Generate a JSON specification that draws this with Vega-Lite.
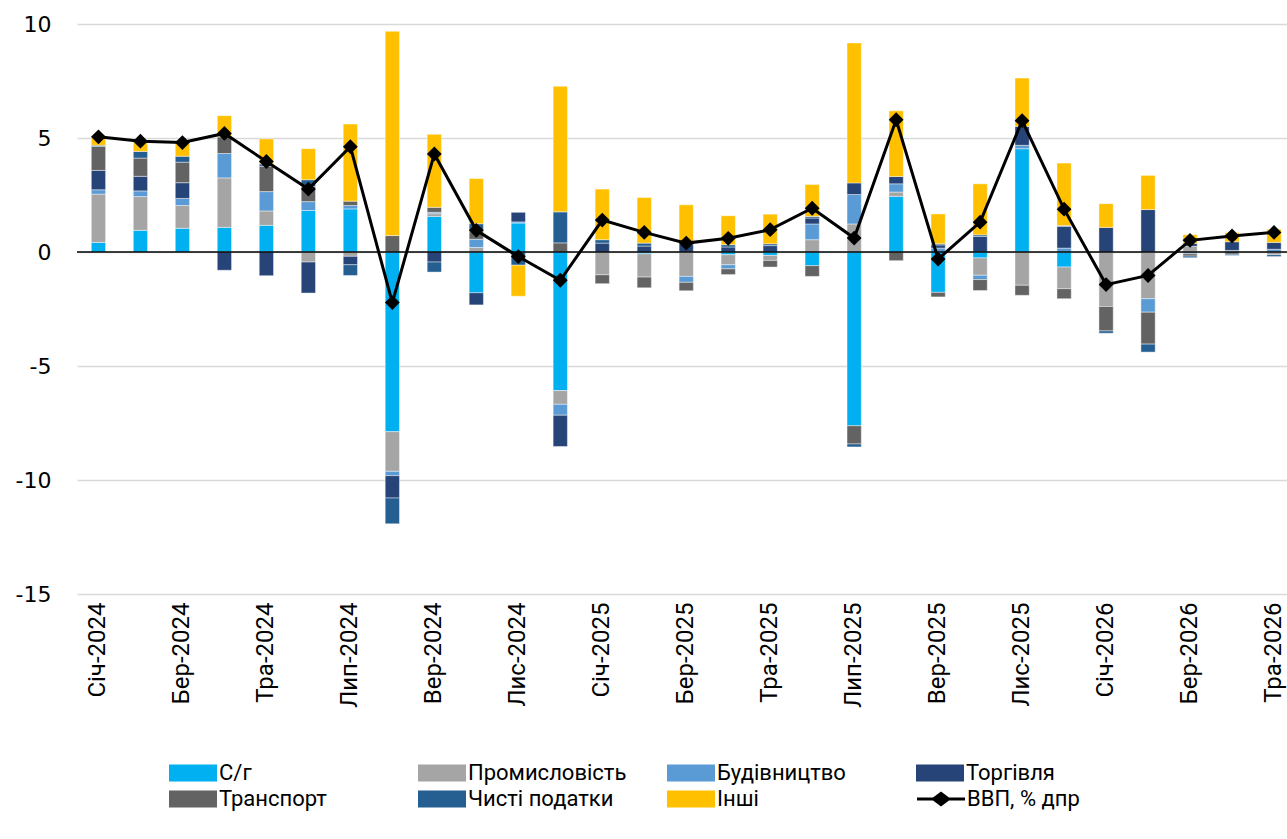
{
  "$schema": "https://vega.github.io/schema/vega-lite/v6.json",
  "width": 1210,
  "height": 570,
  "autosize": {"type": "none"},
  "padding": {"left": 77, "top": 24, "right": 0, "bottom": 245},
  "background": "white",
  "config": {
    "view": {"stroke": null},
    "axisX": {"labelAngle": -90, "labelAlign": "right", "labelBaseline": "middle", "labelFont": "Roboto", "labelFontSize": 24, "labelColor": "black", "labelPadding": 8, "domain": false, "ticks": false, "grid": false, "title": null},
    "axisY": {"labelFont": "DejaVu Sans", "labelFontSize": 22, "labelColor": "black", "labelPadding": 26, "domain": false, "ticks": false, "grid": true, "gridColor": "#D9D9D9", "gridWidth": 1.5, "title": null, "labelExpr": "'' + datum.value"}
  },
  "data": {"values": [
    {"month": "Січ-2024", "series": "С/г", "value": 0.42},
    {"month": "Січ-2024", "series": "Промисловість", "value": 2.12},
    {"month": "Січ-2024", "series": "Будівництво", "value": 0.19},
    {"month": "Січ-2024", "series": "Торгівля", "value": 0.85},
    {"month": "Січ-2024", "series": "Транспорт", "value": 1.05},
    {"month": "Січ-2024", "series": "Чисті податки", "value": 0.05},
    {"month": "Січ-2024", "series": "Інші", "value": 0.39},
    {"month": "Січ-2024", "series": "ВВП, % дпр", "value": 5.05},
    {"month": "Лют-2024", "series": "С/г", "value": 0.95},
    {"month": "Лют-2024", "series": "Промисловість", "value": 1.48},
    {"month": "Лют-2024", "series": "Будівництво", "value": 0.25},
    {"month": "Лют-2024", "series": "Торгівля", "value": 0.64},
    {"month": "Лют-2024", "series": "Транспорт", "value": 0.8},
    {"month": "Лют-2024", "series": "Чисті податки", "value": 0.29},
    {"month": "Лют-2024", "series": "Інші", "value": 0.44},
    {"month": "Лют-2024", "series": "ВВП, % дпр", "value": 4.86},
    {"month": "Бер-2024", "series": "С/г", "value": 1.04},
    {"month": "Бер-2024", "series": "Промисловість", "value": 1.0},
    {"month": "Бер-2024", "series": "Будівництво", "value": 0.31},
    {"month": "Бер-2024", "series": "Торгівля", "value": 0.69},
    {"month": "Бер-2024", "series": "Транспорт", "value": 0.9},
    {"month": "Бер-2024", "series": "Чисті податки", "value": 0.26},
    {"month": "Бер-2024", "series": "Інші", "value": 0.6},
    {"month": "Бер-2024", "series": "ВВП, % дпр", "value": 4.8},
    {"month": "Кві-2024", "series": "С/г", "value": 1.08},
    {"month": "Кві-2024", "series": "Промисловість", "value": 2.17},
    {"month": "Кві-2024", "series": "Будівництво", "value": 1.07},
    {"month": "Кві-2024", "series": "Торгівля", "value": -0.8},
    {"month": "Кві-2024", "series": "Транспорт", "value": 0.73},
    {"month": "Кві-2024", "series": "Інші", "value": 0.93},
    {"month": "Кві-2024", "series": "ВВП, % дпр", "value": 5.2},
    {"month": "Тра-2024", "series": "С/г", "value": 1.17},
    {"month": "Тра-2024", "series": "Промисловість", "value": 0.63},
    {"month": "Тра-2024", "series": "Будівництво", "value": 0.85},
    {"month": "Тра-2024", "series": "Торгівля", "value": -1.04},
    {"month": "Тра-2024", "series": "Транспорт", "value": 1.11},
    {"month": "Тра-2024", "series": "Чисті податки", "value": 0.1},
    {"month": "Тра-2024", "series": "Інші", "value": 1.1},
    {"month": "Тра-2024", "series": "ВВП, % дпр", "value": 3.97},
    {"month": "Чер-2024", "series": "С/г", "value": 1.82},
    {"month": "Чер-2024", "series": "Промисловість", "value": -0.44},
    {"month": "Чер-2024", "series": "Будівництво", "value": 0.39},
    {"month": "Чер-2024", "series": "Торгівля", "value": -1.36},
    {"month": "Чер-2024", "series": "Транспорт", "value": 0.66},
    {"month": "Чер-2024", "series": "Чисті податки", "value": 0.3},
    {"month": "Чер-2024", "series": "Інші", "value": 1.36},
    {"month": "Чер-2024", "series": "ВВП, % дпр", "value": 2.76},
    {"month": "Лип-2024", "series": "С/г", "value": 1.89},
    {"month": "Лип-2024", "series": "Промисловість", "value": -0.19},
    {"month": "Лип-2024", "series": "Будівництво", "value": 0.15},
    {"month": "Лип-2024", "series": "Торгівля", "value": -0.37},
    {"month": "Лип-2024", "series": "Транспорт", "value": 0.19},
    {"month": "Лип-2024", "series": "Чисті податки", "value": -0.47},
    {"month": "Лип-2024", "series": "Інші", "value": 3.38},
    {"month": "Лип-2024", "series": "ВВП, % дпр", "value": 4.62},
    {"month": "Сер-2024", "series": "С/г", "value": -7.88},
    {"month": "Сер-2024", "series": "Промисловість", "value": -1.74},
    {"month": "Сер-2024", "series": "Будівництво", "value": -0.19},
    {"month": "Сер-2024", "series": "Торгівля", "value": -0.98},
    {"month": "Сер-2024", "series": "Транспорт", "value": 0.72},
    {"month": "Сер-2024", "series": "Чисті податки", "value": -1.13},
    {"month": "Сер-2024", "series": "Інші", "value": 8.96},
    {"month": "Сер-2024", "series": "ВВП, % дпр", "value": -2.22},
    {"month": "Вер-2024", "series": "С/г", "value": 1.56},
    {"month": "Вер-2024", "series": "Промисловість", "value": 0.12},
    {"month": "Вер-2024", "series": "Будівництво", "value": 0.06},
    {"month": "Вер-2024", "series": "Торгівля", "value": -0.44},
    {"month": "Вер-2024", "series": "Транспорт", "value": 0.22},
    {"month": "Вер-2024", "series": "Чисті податки", "value": -0.44},
    {"month": "Вер-2024", "series": "Інші", "value": 3.2},
    {"month": "Вер-2024", "series": "ВВП, % дпр", "value": 4.3},
    {"month": "Жов-2024", "series": "С/г", "value": -1.79},
    {"month": "Жов-2024", "series": "Промисловість", "value": 0.2},
    {"month": "Жов-2024", "series": "Будівництво", "value": 0.36},
    {"month": "Жов-2024", "series": "Торгівля", "value": -0.53},
    {"month": "Жов-2024", "series": "Транспорт", "value": 0.33},
    {"month": "Жов-2024", "series": "Чисті податки", "value": 0.35},
    {"month": "Жов-2024", "series": "Інші", "value": 1.98},
    {"month": "Жов-2024", "series": "ВВП, % дпр", "value": 0.95},
    {"month": "Лис-2024", "series": "С/г", "value": 1.27},
    {"month": "Лис-2024", "series": "Будівництво", "value": 0.05},
    {"month": "Лис-2024", "series": "Торгівля", "value": 0.42},
    {"month": "Лис-2024", "series": "Чисті податки", "value": -0.58},
    {"month": "Лис-2024", "series": "Інші", "value": -1.36},
    {"month": "Лис-2024", "series": "ВВП, % дпр", "value": -0.2},
    {"month": "Гру-2024", "series": "С/г", "value": -6.08},
    {"month": "Гру-2024", "series": "Промисловість", "value": -0.6},
    {"month": "Гру-2024", "series": "Будівництво", "value": -0.48},
    {"month": "Гру-2024", "series": "Торгівля", "value": -1.37},
    {"month": "Гру-2024", "series": "Транспорт", "value": 0.4},
    {"month": "Гру-2024", "series": "Чисті податки", "value": 1.36},
    {"month": "Гру-2024", "series": "Інші", "value": 5.51},
    {"month": "Гру-2024", "series": "ВВП, % дпр", "value": -1.24},
    {"month": "Січ-2025", "series": "Промисловість", "value": -1.0},
    {"month": "Січ-2025", "series": "Торгівля", "value": 0.39},
    {"month": "Січ-2025", "series": "Транспорт", "value": -0.39},
    {"month": "Січ-2025", "series": "Чисті податки", "value": 0.15},
    {"month": "Січ-2025", "series": "Інші", "value": 2.22},
    {"month": "Січ-2025", "series": "ВВП, % дпр", "value": 1.4},
    {"month": "Лют-2025", "series": "С/г", "value": -0.08},
    {"month": "Лют-2025", "series": "Промисловість", "value": -1.02},
    {"month": "Лют-2025", "series": "Торгівля", "value": 0.26},
    {"month": "Лют-2025", "series": "Транспорт", "value": -0.47},
    {"month": "Лют-2025", "series": "Чисті податки", "value": 0.13},
    {"month": "Лют-2025", "series": "Інші", "value": 2.0},
    {"month": "Лют-2025", "series": "ВВП, % дпр", "value": 0.86},
    {"month": "Бер-2025", "series": "Промисловість", "value": -1.07},
    {"month": "Бер-2025", "series": "Будівництво", "value": -0.26},
    {"month": "Бер-2025", "series": "Торгівля", "value": 0.36},
    {"month": "Бер-2025", "series": "Транспорт", "value": -0.37},
    {"month": "Бер-2025", "series": "Інші", "value": 1.71},
    {"month": "Бер-2025", "series": "ВВП, % дпр", "value": 0.39},
    {"month": "Кві-2025", "series": "С/г", "value": -0.12},
    {"month": "Кві-2025", "series": "Промисловість", "value": -0.44},
    {"month": "Кві-2025", "series": "Будівництво", "value": -0.18},
    {"month": "Кві-2025", "series": "Торгівля", "value": 0.22},
    {"month": "Кві-2025", "series": "Транспорт", "value": -0.25},
    {"month": "Кві-2025", "series": "Чисті податки", "value": 0.1},
    {"month": "Кві-2025", "series": "Інші", "value": 1.27},
    {"month": "Кві-2025", "series": "ВВП, % дпр", "value": 0.6},
    {"month": "Тра-2025", "series": "С/г", "value": -0.15},
    {"month": "Тра-2025", "series": "Промисловість", "value": -0.22},
    {"month": "Тра-2025", "series": "Торгівля", "value": 0.28},
    {"month": "Тра-2025", "series": "Транспорт", "value": -0.29},
    {"month": "Тра-2025", "series": "Чисті податки", "value": 0.08},
    {"month": "Тра-2025", "series": "Інші", "value": 1.3},
    {"month": "Тра-2025", "series": "ВВП, % дпр", "value": 0.98},
    {"month": "Чер-2025", "series": "С/г", "value": -0.6},
    {"month": "Чер-2025", "series": "Промисловість", "value": 0.54},
    {"month": "Чер-2025", "series": "Будівництво", "value": 0.69},
    {"month": "Чер-2025", "series": "Торгівля", "value": 0.26},
    {"month": "Чер-2025", "series": "Транспорт", "value": -0.47},
    {"month": "Чер-2025", "series": "Чисті податки", "value": 0.07},
    {"month": "Чер-2025", "series": "Інші", "value": 1.4},
    {"month": "Чер-2025", "series": "ВВП, % дпр", "value": 1.92},
    {"month": "Лип-2025", "series": "С/г", "value": -7.62},
    {"month": "Лип-2025", "series": "Промисловість", "value": 1.23},
    {"month": "Лип-2025", "series": "Будівництво", "value": 1.29},
    {"month": "Лип-2025", "series": "Торгівля", "value": 0.51},
    {"month": "Лип-2025", "series": "Транспорт", "value": -0.8},
    {"month": "Лип-2025", "series": "Чисті податки", "value": -0.13},
    {"month": "Лип-2025", "series": "Інші", "value": 6.14},
    {"month": "Лип-2025", "series": "ВВП, % дпр", "value": 0.61},
    {"month": "Сер-2025", "series": "С/г", "value": 2.44},
    {"month": "Сер-2025", "series": "Промисловість", "value": 0.19},
    {"month": "Сер-2025", "series": "Будівництво", "value": 0.36},
    {"month": "Сер-2025", "series": "Торгівля", "value": 0.32},
    {"month": "Сер-2025", "series": "Транспорт", "value": -0.38},
    {"month": "Сер-2025", "series": "Інші", "value": 2.88},
    {"month": "Сер-2025", "series": "ВВП, % дпр", "value": 5.8},
    {"month": "Вер-2025", "series": "С/г", "value": -1.77},
    {"month": "Вер-2025", "series": "Будівництво", "value": 0.17},
    {"month": "Вер-2025", "series": "Торгівля", "value": 0.14},
    {"month": "Вер-2025", "series": "Транспорт", "value": -0.2},
    {"month": "Вер-2025", "series": "Чисті податки", "value": 0.05},
    {"month": "Вер-2025", "series": "Інші", "value": 1.31},
    {"month": "Вер-2025", "series": "ВВП, % дпр", "value": -0.31},
    {"month": "Жов-2025", "series": "С/г", "value": -0.26},
    {"month": "Жов-2025", "series": "Промисловість", "value": -0.76},
    {"month": "Жов-2025", "series": "Будівництво", "value": -0.19},
    {"month": "Жов-2025", "series": "Торгівля", "value": 0.68},
    {"month": "Жов-2025", "series": "Транспорт", "value": -0.48},
    {"month": "Жов-2025", "series": "Чисті податки", "value": 0.07},
    {"month": "Жов-2025", "series": "Інші", "value": 2.24},
    {"month": "Жов-2025", "series": "ВВП, % дпр", "value": 1.31},
    {"month": "Лис-2025", "series": "С/г", "value": 4.53},
    {"month": "Лис-2025", "series": "Промисловість", "value": -1.46},
    {"month": "Лис-2025", "series": "Будівництво", "value": 0.15},
    {"month": "Лис-2025", "series": "Торгівля", "value": 0.83},
    {"month": "Лис-2025", "series": "Транспорт", "value": -0.44},
    {"month": "Лис-2025", "series": "Інші", "value": 2.12},
    {"month": "Лис-2025", "series": "ВВП, % дпр", "value": 5.76},
    {"month": "Гру-2025", "series": "С/г", "value": -0.66},
    {"month": "Гру-2025", "series": "Промисловість", "value": -0.95},
    {"month": "Гру-2025", "series": "Будівництво", "value": 0.17},
    {"month": "Гру-2025", "series": "Торгівля", "value": 0.95},
    {"month": "Гру-2025", "series": "Транспорт", "value": -0.44},
    {"month": "Гру-2025", "series": "Чисті податки", "value": 0.04},
    {"month": "Гру-2025", "series": "Інші", "value": 2.74},
    {"month": "Гру-2025", "series": "ВВП, % дпр", "value": 1.88},
    {"month": "Січ-2026", "series": "Промисловість", "value": -2.39},
    {"month": "Січ-2026", "series": "Торгівля", "value": 1.08},
    {"month": "Січ-2026", "series": "Транспорт", "value": -1.07},
    {"month": "Січ-2026", "series": "Чисті податки", "value": -0.1},
    {"month": "Січ-2026", "series": "Інші", "value": 1.04},
    {"month": "Січ-2026", "series": "ВВП, % дпр", "value": -1.43},
    {"month": "Лют-2026", "series": "Промисловість", "value": -2.05},
    {"month": "Лют-2026", "series": "Будівництво", "value": -0.59},
    {"month": "Лют-2026", "series": "Торгівля", "value": 1.86},
    {"month": "Лют-2026", "series": "Транспорт", "value": -1.4},
    {"month": "Лют-2026", "series": "Чисті податки", "value": -0.35},
    {"month": "Лют-2026", "series": "Інші", "value": 1.5},
    {"month": "Лют-2026", "series": "ВВП, % дпр", "value": -1.03},
    {"month": "Бер-2026", "series": "Промисловість", "value": 0.25},
    {"month": "Бер-2026", "series": "Будівництво", "value": -0.08},
    {"month": "Бер-2026", "series": "Торгівля", "value": 0.13},
    {"month": "Бер-2026", "series": "Транспорт", "value": -0.1},
    {"month": "Бер-2026", "series": "Чисті податки", "value": -0.07},
    {"month": "Бер-2026", "series": "Інші", "value": 0.38},
    {"month": "Бер-2026", "series": "ВВП, % дпр", "value": 0.51},
    {"month": "Кві-2026", "series": "Будівництво", "value": 0.07},
    {"month": "Кві-2026", "series": "Торгівля", "value": 0.38},
    {"month": "Кві-2026", "series": "Транспорт", "value": -0.1},
    {"month": "Кві-2026", "series": "Чисті податки", "value": -0.05},
    {"month": "Кві-2026", "series": "Інші", "value": 0.4},
    {"month": "Кві-2026", "series": "ВВП, % дпр", "value": 0.7},
    {"month": "Тра-2026", "series": "Промисловість", "value": -0.12},
    {"month": "Тра-2026", "series": "Будівництво", "value": 0.12},
    {"month": "Тра-2026", "series": "Торгівля", "value": 0.3},
    {"month": "Тра-2026", "series": "Чисті податки", "value": -0.08},
    {"month": "Тра-2026", "series": "Інші", "value": 0.58},
    {"month": "Тра-2026", "series": "ВВП, % дпр", "value": 0.86}
  ]},
  "layer": [
    {
      "transform": [
        {"filter": "datum.series !== 'ВВП, % дпр'"},
        {"calculate": "indexof(['С/г','Промисловість','Будівництво','Торгівля','Транспорт','Чисті податки','Інші'], datum.series)", "as": "k"}
      ],
      "mark": {"type": "bar", "stroke": "white", "strokeWidth": 0.6, "strokeOpacity": 0.7},
      "encoding": {
        "x": {"field": "month", "type": "ordinal", "sort": null, "scale": {"paddingInner": 0.66, "paddingOuter": 0.24, "align": 0.71}, "axis": {"values": ["Січ-2024","Бер-2024","Тра-2024","Лип-2024","Вер-2024","Лис-2024","Січ-2025","Бер-2025","Тра-2025","Лип-2025","Вер-2025","Лис-2025","Січ-2026","Бер-2026","Тра-2026"]}},
        "y": {"field": "value", "type": "quantitative", "stack": "zero", "scale": {"domain": [-15, 10], "nice": false}, "axis": {"values": [-15, -10, -5, 0, 5, 10]}},
        "order": {"field": "k", "type": "quantitative"},
        "color": {
          "field": "series", "type": "nominal",
          "scale": {"domain": ["С/г","Промисловість","Будівництво","Торгівля","Транспорт","Чисті податки","Інші"], "range": ["#00B0F0","#A5A5A5","#5B9BD5","#264478","#636363","#255E91","#FFC000"]},
          "legend": {
            "title": null, "orient": "none", "legendX": 91, "legendY": 738, "direction": "horizontal", "columns": 4, "columnPadding": 39, "rowPadding": 4, "gridAlign": "all", "padding": 0,
            "symbolType": "M-1,-0.85L3.8,-0.85L3.8,0.85L-1,0.85Z", "symbolSize": 400, "symbolStrokeWidth": 0,
            "labelFont": "Roboto", "labelFontSize": 22, "labelColor": "black", "labelOffset": 29, "labelLimit": 300
          }
        }
      }
    },
    {
      "data": {"values": [{}]},
      "mark": {"type": "rule", "color": "black", "strokeWidth": 1.5},
      "encoding": {"y": {"datum": 0}}
    },
    {
      "transform": [{"filter": "datum.series === 'ВВП, % дпр'"}],
      "mark": {"type": "line", "color": "black", "strokeWidth": 3, "point": {"shape": "diamond", "size": 220, "filled": true, "color": "black", "opacity": 1}},
      "encoding": {
        "x": {"field": "month", "type": "ordinal", "sort": null, "axis": {"values": ["Січ-2024","Бер-2024","Тра-2024","Лип-2024","Вер-2024","Лис-2024","Січ-2025","Бер-2025","Тра-2025","Лип-2025","Вер-2025","Лис-2025","Січ-2026","Бер-2026","Тра-2026"]}},
        "y": {"field": "value", "type": "quantitative"}
      }
    },
    {
      "transform": [{"filter": "datum.series === 'ВВП, % дпр' && datum.month === 'Січ-2024'"}],
      "mark": {"type": "point", "filled": true, "color": "black", "opacity": 0},
      "encoding": {
        "x": {"field": "month", "type": "ordinal", "sort": null, "axis": {"values": ["Січ-2024","Бер-2024","Тра-2024","Лип-2024","Вер-2024","Лис-2024","Січ-2025","Бер-2025","Тра-2025","Лип-2025","Вер-2025","Лис-2025","Січ-2026","Бер-2026","Тра-2026"]}},
        "y": {"field": "value", "type": "quantitative"},
        "shape": {
          "field": "series", "type": "nominal",
          "scale": {"domain": ["ВВП, % дпр"], "range": ["M-1,-0.15L0.6,-0.15L1.4,-0.75L2.2,-0.15L3.8,-0.15L3.8,0.15L2.2,0.15L1.4,0.75L0.6,0.15L-1,0.15Z"]},
          "legend": {
            "title": null, "orient": "none", "legendX": 839, "legendY": 764, "padding": 0,
            "symbolSize": 400, "symbolStrokeWidth": 0, "symbolOpacity": 1, "symbolFillColor": "black",
            "labelFont": "Roboto", "labelFontSize": 22, "labelColor": "black", "labelOffset": 29, "labelLimit": 300
          }
        }
      }
    }
  ]
}
